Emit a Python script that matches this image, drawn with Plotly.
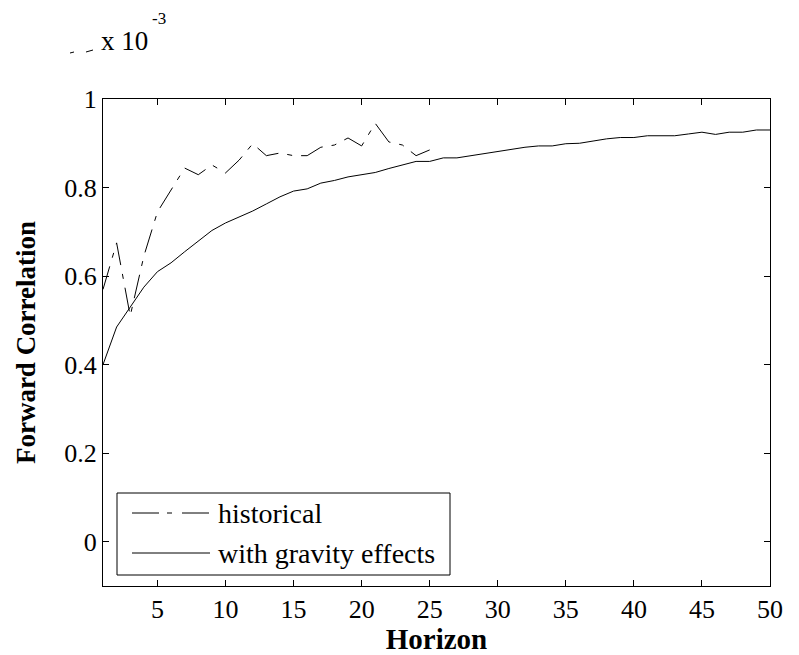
import plotly.graph_objects as go

horizon_hist = list(range(1, 26))
historical = [0.57, 0.675, 0.51, 0.645, 0.745, 0.795, 0.844, 0.829, 0.851, 0.833,
              0.862, 0.899, 0.872, 0.878, 0.872, 0.872, 0.891, 0.896, 0.912, 0.894,
              0.945, 0.903, 0.896, 0.872, 0.885]

horizon_grav = list(range(1, 51))
gravity = [0.40, 0.485, 0.53, 0.575, 0.61, 0.63, 0.655, 0.68, 0.703, 0.72,
           0.733, 0.747, 0.763, 0.779, 0.792, 0.797, 0.81, 0.816, 0.824, 0.829,
           0.834, 0.843, 0.851, 0.859, 0.859, 0.867, 0.867, 0.872, 0.877, 0.881,
           0.886, 0.891, 0.894, 0.894, 0.899, 0.90, 0.905, 0.91, 0.913, 0.913,
           0.917, 0.917, 0.917, 0.921, 0.925, 0.92, 0.925, 0.925, 0.93, 0.93]

series_names = ["historical", "with gravity effects"]
x_ticks = [5, 10, 15, 20, 25, 30, 35, 40, 45, 50]
y_ticks = [0, 0.2, 0.4, 0.6, 0.8, 1]
y_tick_labels = ["0", "0.2", "0.4", "0.6", "0.8", "1"]

FONT = "Liberation Serif"
DASH = "24px,9px,5px,9px"

# plot area in pixels
L, R, T, B = 103, 770, 99, 586
W, H = 799, 655
PW, PH = R - L, B - T


def px(xp):
    return (xp - L) / PW


def py(yp):
    return (B - yp) / PH


fig = go.Figure()
fig.add_trace(go.Scatter(x=horizon_hist, y=historical, mode="lines", name=series_names[0],
                         line=dict(color="black", width=1, dash=DASH), showlegend=False))
fig.add_trace(go.Scatter(x=horizon_grav, y=gravity, mode="lines", name=series_names[1],
                         line=dict(color="black", width=1), showlegend=False))

axis_common = dict(showline=True, linecolor="black", linewidth=1, mirror="ticks",
                   ticks="inside", ticklen=6, tickcolor="black", tickwidth=1,
                   showgrid=False, zeroline=False, automargin=False,
                   tickfont=dict(family=FONT, size=26, color="black"))

fig.update_xaxes(range=[1, 50], tickvals=x_ticks,
                 title=dict(text="<b>Horizon</b>", font=dict(family=FONT, size=29, color="black"), standoff=12),
                 **axis_common)
fig.update_yaxes(range=[-0.1, 1], tickvals=y_ticks, ticktext=y_tick_labels,
                 title=dict(text="<b>Forward Correlation</b>", font=dict(family=FONT, size=27, color="black"), standoff=20),
                 **axis_common)

shapes = [
    # legend box
    dict(type="rect", xref="paper", yref="paper", x0=px(117), x1=px(450), y0=py(575), y1=py(493),
         line=dict(color="black", width=1), fillcolor="white", layer="above"),
    # legend samples
    dict(type="line", xref="paper", yref="paper", x0=px(132), x1=px(210), y0=py(513), y1=py(513),
         line=dict(color="black", width=1, dash="27px,8px,5px,10px"), layer="above"),
    dict(type="line", xref="paper", yref="paper", x0=px(132), x1=px(210), y0=py(553), y1=py(553),
         line=dict(color="black", width=1), layer="above"),
    # small dash fragments near the exponent label
    dict(type="line", xref="paper", yref="paper", x0=px(70), x1=px(74), y0=py(53), y1=py(52),
         line=dict(color="black", width=1)),
    dict(type="line", xref="paper", yref="paper", x0=px(86), x1=px(93), y0=py(52), y1=py(50),
         line=dict(color="black", width=1)),
]

annotations = [
    dict(text="x 10", xref="paper", yref="paper", x=px(99), y=py(41),
         xanchor="left", yanchor="middle", showarrow=False,
         font=dict(family=FONT, size=27, color="black")),
    dict(text="-3", xref="paper", yref="paper", x=px(150), y=py(18),
         xanchor="left", yanchor="middle", showarrow=False,
         font=dict(family=FONT, size=17, color="black")),
    dict(text=series_names[0], xref="paper", yref="paper", x=px(216), y=py(513),
         xanchor="left", yanchor="middle", showarrow=False,
         font=dict(family=FONT, size=28, color="black")),
    dict(text=series_names[1], xref="paper", yref="paper", x=px(216), y=py(553),
         xanchor="left", yanchor="middle", showarrow=False,
         font=dict(family=FONT, size=28, color="black")),
]

fig.update_layout(
    width=W, height=H,
    margin=dict(l=L, r=W - R, t=T, b=H - B),
    paper_bgcolor="white", plot_bgcolor="white",
    font=dict(family=FONT, size=26, color="black"),
    showlegend=False,
    shapes=shapes,
    annotations=annotations,
)

fig.write_html("out.html")
